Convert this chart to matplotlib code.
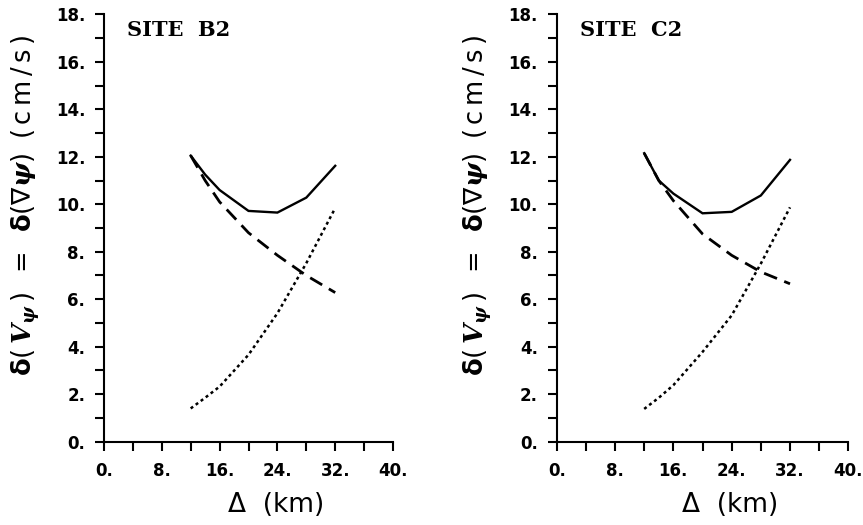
import matplotlib
matplotlib.use("Agg")
import matplotlib.pyplot as plt
from matplotlib.ticker import MultipleLocator, FuncFormatter

plt.rcParams['font.family'] = ['DejaVu Sans']
plt.rcParams['mathtext.fontset'] = 'custom'
plt.rcParams['mathtext.rm'] = 'DejaVu Sans'
plt.rcParams['mathtext.it'] = 'DejaVu Serif:italic:bold'
plt.rcParams['mathtext.bf'] = 'DejaVu Sans:bold'

# Data
distance = [12, 14, 16, 20, 24, 28, 32]
site_labels = ["SITE  B2", "SITE  C2"]
b2_total = [12.05, 11.25, 10.6, 9.72, 9.65, 10.28, 11.62]
b2_dashed = [12.05, 11.0, 10.1, 8.8, 7.85, 7.0, 6.28]
b2_dotted = [1.4, 1.85, 2.32, 3.66, 5.41, 7.52, 9.84]
c2_total = [12.15, 11.0, 10.45, 9.62, 9.68, 10.37, 11.87]
c2_dashed = [12.15, 11.0, 10.15, 8.75, 7.85, 7.15, 6.65]
c2_dotted = [1.38, 1.85, 2.38, 3.78, 5.32, 7.5, 9.87]

ylabel = (r"$\mathbf{\delta}\mathrm{(\,}V_{\psi}\mathrm{\,)}\ \,\mathrm{=}\ \,"
          r"\mathbf{\delta}\mathrm{(\nabla}\psi\mathrm{)}\ \,"
          r"\mathrm{(\,c\,m\,/\,s\,)}$")

fig = plt.figure(figsize=(8.63, 5.25), dpi=100)
ax1 = fig.add_axes([0.1205, 0.1587, 0.3349, 0.814])
ax2 = fig.add_axes([0.6451, 0.1587, 0.3379, 0.814])

fmt = FuncFormatter(lambda v, p: f"{int(round(v))}.")

panels = [
    (ax1, site_labels[0], b2_total, b2_dashed, b2_dotted),
    (ax2, site_labels[1], c2_total, c2_dashed, c2_dotted),
]
for ax, title, tot, dsh, dot in panels:
    ax.plot(distance, tot, color='black', lw=1.7, solid_joinstyle='miter')
    ax.plot(distance, dsh, color='black', lw=2.0, dashes=(5, 2.8))
    ax.plot(distance, dot, color='black', lw=1.8, dashes=(1.2, 1.3))
    ax.set_xlim(0, 40)
    ax.set_ylim(0, 18)
    ax.xaxis.set_major_locator(MultipleLocator(8))
    ax.xaxis.set_minor_locator(MultipleLocator(4))
    ax.yaxis.set_major_locator(MultipleLocator(2))
    ax.yaxis.set_minor_locator(MultipleLocator(1))
    ax.xaxis.set_major_formatter(fmt)
    ax.yaxis.set_major_formatter(fmt)
    ax.spines['top'].set_visible(False)
    ax.spines['right'].set_visible(False)
    for s in ('left', 'bottom'):
        ax.spines[s].set_linewidth(1.5)
    ax.tick_params(which='both', direction='out', length=6.5, width=1.5,
                   labelsize=12)
    ax.tick_params(axis='y', pad=7)
    ax.tick_params(axis='x', pad=8)
    for lab in ax.get_xticklabels() + ax.get_yticklabels():
        lab.set_fontweight('bold')
    ax.text(0.08, 0.963, title, transform=ax.transAxes, ha='left', va='center',
            fontsize=15, fontweight='bold', family='DejaVu Serif')
    ax.set_xlabel("Δ  (km)", fontsize=19)
    ax.xaxis.set_label_coords(0.595, -0.148)
    ax.set_ylabel(ylabel, fontsize=18.5)
    ax.yaxis.set_label_coords(-0.27, 0.553)
    ax.yaxis.label.set_va('center')
    ax.xaxis.label.set_va('center')

fig.savefig("out.png", dpi=100)
